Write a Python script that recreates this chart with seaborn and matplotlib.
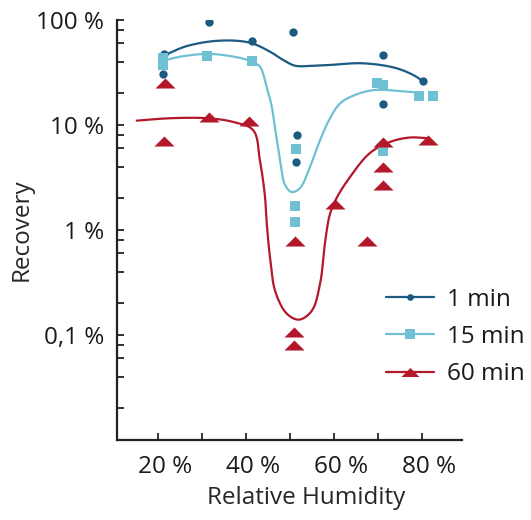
import numpy as np
import pandas as pd
import seaborn as sns
import matplotlib
matplotlib.use("Agg")
import matplotlib.pyplot as plt
import matplotlib.transforms as mtransforms
from matplotlib.lines import Line2D
from matplotlib.ticker import FixedLocator, NullFormatter

# Measured recovery (%) vs relative humidity (%) for three exposure times
rh_1min = [21.3, 21.0, 21.1, 31.5, 41.3, 50.6, 51.6, 51.4, 71.0, 71.0, 80.1]
rec_1min = [47, 38, 30.6, 95, 63, 77, 8.0, 4.4, 46, 15.8, 26]

rh_15min = [21.1, 21.1, 31.1, 41.2, 51.4, 51.1, 51.1, 69.8, 71.1, 71.1, 79.2, 82.5]
rec_15min = [43, 37, 45.7, 40.8, 5.9, 1.69, 1.2, 25, 23.9, 5.7, 18.7, 18.9]

rh_60min = [21.5, 21.3, 31.5, 40.6, 50.9, 50.9, 51.1, 60.2, 67.4, 71.1, 71.1, 71.1, 81.4]
rec_60min = [25, 7.0, 11.8, 11.0, 0.107, 0.080, 0.79, 1.77, 0.79, 6.9, 4.0, 2.7, 7.2]

# Smoothed trend lines (knots of each fitted curve)
fit_rh_1min = [21.5, 26.5, 34.0, 40.8, 45.4, 48.4, 51.1, 54.5, 59.0, 66.6, 74.2, 78.7, 80.2]
fit_1min = [46.4, 56.5, 63.6, 60.8, 49.9, 41.6, 36.7, 36.5, 37.3, 38.7, 34.7, 28.8, 25.8]

fit_rh_15min = [21.1, 24.9, 31.0, 36.3, 40.8, 43.1, 44.6, 45.8, 46.5, 47.7, 48.8, 50.3,
                52.2, 54.5, 56.8, 59.0, 61.3, 64.3, 68.9, 74.2, 78.3]
fit_15min = [40.9, 44.7, 47.5, 45.4, 40.9, 35.9, 23.2, 15.0, 9.6, 4.6, 2.7, 2.3,
             2.5, 4.0, 7.2, 11.5, 16.0, 19.0, 21.5, 21.2, 20.5]

fit_rh_60min = [15.1, 22.7, 31.0, 37.0, 41.6, 43.1, 44.2, 44.7, 45.4, 46.6, 49.2, 52.0,
                54.9, 56.8, 57.9, 59.0, 60.5, 63.6, 68.1, 72.7, 77.2, 81.0]
fit_60min = [11.0, 11.6, 11.6, 10.7, 8.9, 4.6, 2.2, 1.1, 0.55, 0.26, 0.16, 0.14,
             0.17, 0.31, 0.75, 1.4, 2.0, 3.2, 5.4, 6.9, 7.6, 7.5]

series_names = ["1 min", "15 min", "60 min"]
colors = {"1 min": "#1c5a82", "15 min": "#6fc0d3", "60 min": "#b3182a"}
tri = [(-1, -0.5), (1, -0.5), (0, 0.5)]
markers = {"1 min": "o", "15 min": "s", "60 min": tri}
sizes = {"1 min": 36, "15 min": 52, "60 min": 210}
legend_ms = {"1 min": 4.8, "15 min": 7.2, "60 min": 13}


def centripetal_spline(x, y, n=30, alpha=0.5):
    """Centripetal Catmull-Rom curve through knots, evaluated in (x, log10 y) space."""
    P = np.column_stack([np.asarray(x) * 4.4, np.log10(y) * 105.0])
    P = np.vstack([2 * P[0] - P[1], P, 2 * P[-1] - P[-2]])
    out = []
    for i in range(1, len(P) - 2):
        p0, p1, p2, p3 = P[i - 1:i + 3]
        t0 = 0.0
        t1 = t0 + np.linalg.norm(p1 - p0) ** alpha
        t2 = t1 + np.linalg.norm(p2 - p1) ** alpha
        t3 = t2 + np.linalg.norm(p3 - p2) ** alpha
        t = np.linspace(t1, t2, n, endpoint=False)[:, None]
        a1 = (t1 - t) / (t1 - t0) * p0 + (t - t0) / (t1 - t0) * p1
        a2 = (t2 - t) / (t2 - t1) * p1 + (t - t1) / (t2 - t1) * p2
        a3 = (t3 - t) / (t3 - t2) * p2 + (t - t2) / (t3 - t2) * p3
        b1 = (t2 - t) / (t2 - t0) * a1 + (t - t0) / (t2 - t0) * a2
        b2 = (t3 - t) / (t3 - t1) * a2 + (t - t1) / (t3 - t1) * a3
        c = (t2 - t) / (t2 - t1) * b1 + (t - t1) / (t2 - t1) * b2
        out.append(c)
    out.append(P[-2][None, :])
    C = np.vstack(out)
    return C[:, 0] / 4.4, 10 ** (C[:, 1] / 105.0)


points = pd.concat([
    pd.DataFrame({"rh": rh_1min, "rec": rec_1min, "series": "1 min"}),
    pd.DataFrame({"rh": rh_15min, "rec": rec_15min, "series": "15 min"}),
    pd.DataFrame({"rh": rh_60min, "rec": rec_60min, "series": "60 min"}),
])
fits = {
    "1 min": (fit_rh_1min, fit_1min),
    "15 min": (fit_rh_15min, fit_15min),
    "60 min": (fit_rh_60min, fit_60min),
}

sns.set_theme(style="ticks")
plt.rcParams["font.family"] = ["Open Sans", "DejaVu Sans"]
plt.rcParams["text.color"] = "#1a1a1a"
FS = 17.5

fig = plt.figure(figsize=(5.31, 5.20), dpi=100)
ax = fig.add_axes([117 / 531, 80 / 520, 344.7 / 531, 420 / 520])

for name in series_names:
    fx, fy = centripetal_spline(*fits[name])
    curve = pd.DataFrame({"rh": fx, "rec": fy})
    sns.lineplot(data=curve, x="rh", y="rec", sort=False, estimator=None,
                 color=colors[name], linewidth=1.6, ax=ax, legend=False)

for name in series_names:
    sub = points[points["series"] == name]
    sns.scatterplot(data=sub, x="rh", y="rec", marker=markers[name], s=sizes[name],
                    color=colors[name], linewidth=0, ax=ax, legend=False, zorder=3)

ax.set_yscale("log")
ax.set_xlim(10.6, 89)
ax.set_ylim(0.01, 100)

ax.set_xticks([20, 30, 40, 50, 60, 70, 80])
ax.set_xticklabels(["20 %", "", "40 %", "", "60 %", "", "80 %"])
ax.yaxis.set_major_locator(FixedLocator([0.1, 1, 10, 100]))
ax.set_yticklabels(["0,1 %", "1 %", "10 %", "100 %"])
minor = [k * 10.0 ** d for d in range(-2, 2) for k in (2, 4, 6, 8)]
ax.yaxis.set_minor_locator(FixedLocator(minor))
ax.yaxis.set_minor_formatter(NullFormatter())

ax.tick_params(axis="both", which="both", direction="in", length=5, width=1.3,
               color="#222222", labelsize=FS, labelcolor="#1a1a1a")
ax.tick_params(axis="x", pad=11)
ax.tick_params(axis="y", pad=9)

shift = mtransforms.ScaledTranslation(7 / 100, 0, fig.dpi_scale_trans)
for lab in ax.get_xticklabels():
    lab.set_transform(lab.get_transform() + shift)

sns.despine(ax=ax)
for side in ("left", "bottom"):
    ax.spines[side].set_linewidth(1.6)
    ax.spines[side].set_color("#222222")

ax.set_xlabel("Relative Humidity", fontsize=FS)
ax.xaxis.set_label_coords(0.55, -0.11)
ax.set_ylabel("Recovery", fontsize=FS, labelpad=2)

handles = [Line2D([0], [0], color=colors[n], linewidth=1.6, marker=markers[n],
                  markersize=legend_ms[n], markeredgewidth=0) for n in series_names]
ax.legend(handles, series_names, loc="upper left", bbox_to_anchor=(0.78, 0.363),
          frameon=False, fontsize=FS, handlelength=2.0, handletextpad=0.5,
          labelspacing=0.55, borderpad=0, borderaxespad=0)

fig.savefig("out.png", dpi=100)
